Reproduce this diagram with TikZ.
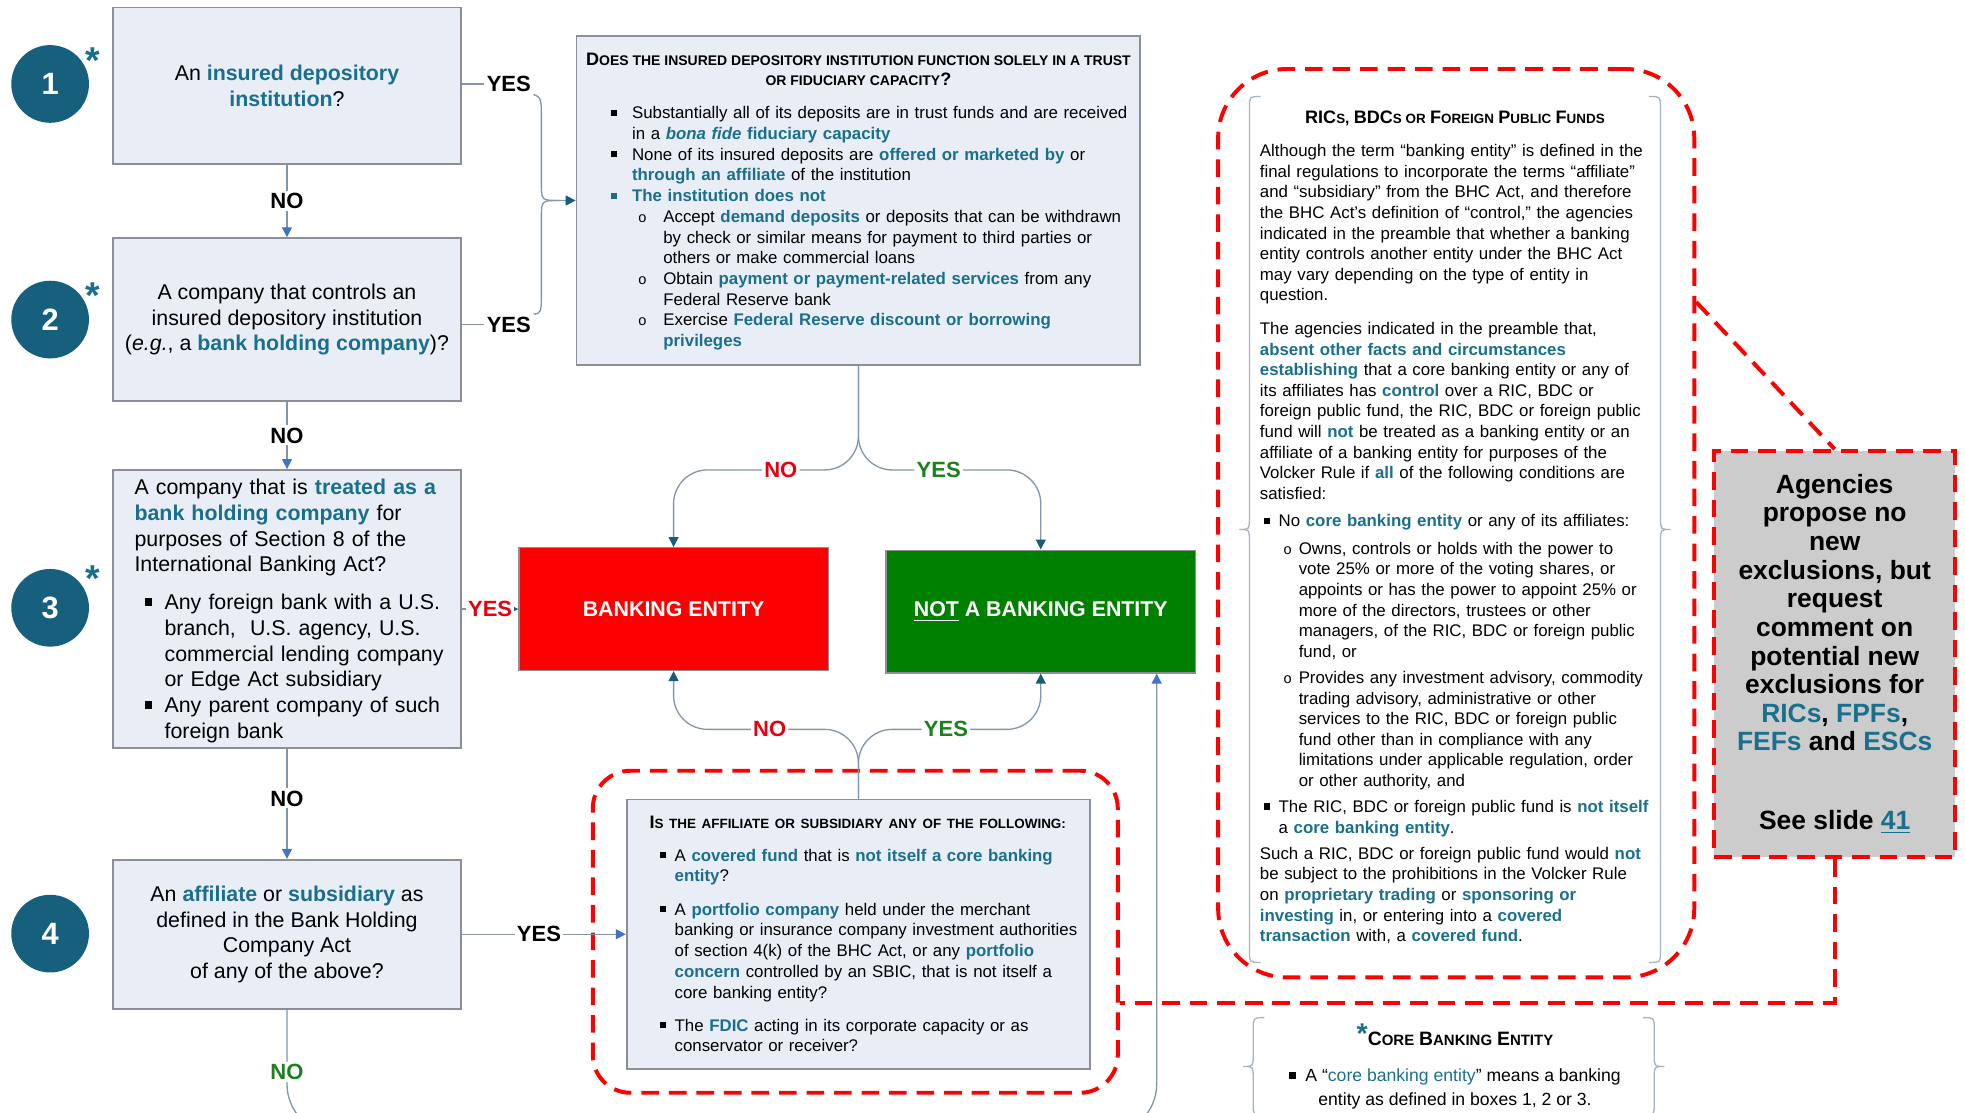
\documentclass[tikz,border=0pt]{standalone}
\usepackage{fontspec}
\setmainfont{Liberation Sans}
\usetikzlibrary{arrows.meta,positioning}

\definecolor{hl}{RGB}{26,112,140}
\definecolor{circ}{RGB}{22,96,126}
\definecolor{boxfill}{RGB}{233,237,245}
\definecolor{boxline}{RGB}{140,142,152}
\definecolor{linkc}{RGB}{130,150,168}
\definecolor{arblue}{RGB}{68,114,196}
\definecolor{arteal}{RGB}{24,92,120}
\definecolor{beRed}{RGB}{255,0,0}
\definecolor{beGreen}{RGB}{0,128,0}
\definecolor{noRed}{RGB}{232,0,16}
\definecolor{yesGreen}{RGB}{28,128,28}
\definecolor{noteGray}{RGB}{204,204,204}
\definecolor{braceC}{RGB}{165,180,192}

\newcommand{\hb}[1]{\textcolor{hl}{\bfseries #1}}
\newcommand{\bigc}[1]{{\fontsize{8.2}{9}\selectfont #1}}
\newcommand{\smc}[2][6.1]{{\fontsize{#1}{9}\selectfont #2}}
\newcommand{\sqb}{\rule[0.18em]{0.36em}{0.36em}}
\newcommand{\bitem}[4][black]{\par{\let\\\newline\hangindent=#3\hangafter=1\noindent\makebox[#3][l]{\hspace{#2}\textcolor{#1}{\sqb}}#4\par}}
\newcommand{\citem}[3]{\par{\let\\\newline\hangindent=#2\hangafter=1\noindent\makebox[#2][l]{\hspace{#1}{\fontsize{6.6}{6}\selectfont o}}#3\par}}
\newcommand{\dbrace}[4]{%
  \draw[bracel] (#1+9,#2) .. controls (#1,#2) .. (#1,#2+9) -- (#1,{(#2+#4)/2-9}) .. controls (#1,{(#2+#4)/2}) .. (#1-8,{(#2+#4)/2}) .. controls (#1,{(#2+#4)/2}) .. (#1,{(#2+#4)/2+9}) -- (#1,#4-9) .. controls (#1,#4) .. (#1+9,#4);
  \draw[bracel] (#3-9,#2) .. controls (#3,#2) .. (#3,#2+9) -- (#3,{(#2+#4)/2-9}) .. controls (#3,{(#2+#4)/2}) .. (#3+8,{(#2+#4)/2}) .. controls (#3,{(#2+#4)/2}) .. (#3,{(#2+#4)/2+9}) -- (#3,#4-9) .. controls (#3,#4) .. (#3-9,#4);}

\tikzset{
  qbox/.style={draw=boxline, fill=boxfill, line width=0.8pt, minimum width=5.56cm, inner sep=0pt, align=center, font=\fontsize{9.7}{11.6}\selectfont},
  numc/.style={circle, fill=circ, minimum size=1.24cm, inner sep=0pt, text=white, font=\fontsize{14}{14}\selectfont\bfseries},
  ast/.style={text=hl, inner sep=0pt, font=\fontsize{17}{17}\selectfont\bfseries},
  link/.style={draw=linkc, line width=0.6pt},
  tipb/.style={-{Triangle[length=4.5pt,width=4.5pt,color=arblue]}},
  tipt/.style={-{Triangle[length=4.5pt,width=4.5pt,color=arteal]}},
  lbl/.style={fill=white, inner sep=1pt, font=\fontsize{10}{10}\selectfont\bfseries},
  result/.style={draw=boxline, line width=0.6pt, minimum width=4.94cm, minimum height=1.96cm, text=white, font=\fontsize{9.7}{11}\selectfont\bfseries},
  reddash/.style={draw=beRed, line width=1.8pt, dash pattern=on 8pt off 4.5pt},
  bracel/.style={draw=braceC, line width=0.6pt},
  txt/.style={inner sep=0pt, align=left}
}

\begin{document}
\begin{tikzpicture}[x=0.02cm, y=-0.02cm]
  % 画布
  \useasboundingbox (0,0) rectangle (1568,888);
  \clip (0,0) rectangle (1568,888);

  % 红色虚线框
  \node[reddash, rounded corners=0.6cm, minimum width=8.38cm, minimum height=5.14cm] (affframe) at (682.5,743.5) {};
  \node[reddash, rounded corners=1.1cm, minimum width=7.6cm, minimum height=14.5cm] (ricframe) at (1162,417.5) {};
  \node[reddash, fill=noteGray, minimum width=3.84cm, minimum height=6.48cm, align=center, font=\fontsize{12}{13}\selectfont\bfseries] (note) at (1464,522)
    {Agencies\\propose no\\new\\exclusions, but\\request\\comment on\\potential new\\exclusions for\\\textcolor{hl}{RICs}, \textcolor{hl}{FPFs},\\\textcolor{hl}{FEFs} and \textcolor{hl}{ESCs}\\[0.8cm]See slide \textcolor{hl}{\underline{41}}};
  \draw[reddash] ([yshift=3.53cm]ricframe.east) -- (note.north);
  \draw[reddash] (note.south) |- ([yshift=-1.13cm]affframe.east);

  % 编号圆
  \foreach \n/\y in {1/67, 2/255, 3/485, 4/745}
    \node[numc] (c\n) at (40,\y) {\n};
  \foreach \n/\y in {1/48, 2/236, 3/462}
    \node[ast] (s\n) at (74,\y) {*};

  % 左侧问题框
  \node[qbox, minimum height=2.5cm] (box1) at (229,68.5) {An \hb{insured depository}\\\hb{institution}?};
  \node[qbox, minimum height=2.6cm] (box2) at (229,255) {A company that controls an\\insured depository institution\\(\textit{e.g.}, a \hb{bank holding company})?};
  \node[qbox, minimum height=4.44cm] (box3) at (229,486) {};
  \node[txt, font=\fontsize{9.7}{11.7}\selectfont, text width=5.4cm, anchor=north west] (box3text) at (107,382)
    {A company that is \hb{treated as a}\\\hb{bank holding company} for\\purposes of Section 8 of the\\International Banking Act?\par\vspace{0.19cm}
     \bitem{0.16cm}{0.48cm}{Any foreign bank with a U.S.\\branch,\ \ U.S. agency, U.S.\\commercial lending company\\or Edge Act subsidiary}
     \bitem{0.16cm}{0.48cm}{Any parent company of such\\foreign bank}};
  \node[qbox, minimum height=2.38cm] (box4) at (229,745.5) {An \hb{affiliate} or \hb{subsidiary} as\\defined in the Bank Holding\\Company Act\\of any of the above?};

  % 信托问题框
  \node[qbox, minimum width=9cm, minimum height=5.24cm] (trust) at (685,160) {};
  \node[txt, align=center, anchor=north, font=\fontsize{8.2}{9.2}\selectfont\bfseries] (trusttitle) at (685,42)
    {\bigc{D}\smc[6.35]{OES THE INSURED DEPOSITORY INSTITUTION FUNCTION SOLELY IN A TRUST}\\\smc[6.35]{OR FIDUCIARY CAPACITY}?};
  \node[txt, font=\fontsize{7.65}{9.4}\selectfont, text width=9.4cm, anchor=north west] (trusttext) at (470,78)
    {\bitem{0.34cm}{0.68cm}{Substantially all of its deposits are in trust funds and are received\\in a \textcolor{hl}{\bfseries\itshape bona fide} \hb{fiduciary capacity}}
     \bitem{0.34cm}{0.68cm}{None of its insured deposits are \hb{offered or marketed by} or\\\hb{through an affiliate} of the institution}
     \bitem[hl]{0.34cm}{0.68cm}{\hb{The institution does not}}
     \citem{0.78cm}{1.18cm}{Accept \hb{demand deposits} or deposits that can be withdrawn\\by check or similar means for payment to third parties or\\others or make commercial loans}
     \citem{0.78cm}{1.18cm}{Obtain \hb{payment or payment-related services} from any\\Federal Reserve bank}
     \citem{0.78cm}{1.18cm}{Exercise \hb{Federal Reserve discount or borrowing}\\\hb{privileges}}};

  % 关联公司问题框
  \node[qbox, minimum width=7.4cm, minimum height=4.3cm] (affil) at (685,745.5) {};
  \node[txt, font=\fontsize{7.65}{9.4}\selectfont, text width=7.2cm, anchor=north west] (affiltext) at (518,651)
    {{\bfseries\bigc{I}\smc{S THE AFFILIATE OR SUBSIDIARY ANY OF THE FOLLOWING:}}\par\vspace{0.19cm}
     \bitem{0.16cm}{0.4cm}{A \hb{covered fund} that is \hb{not itself a core banking}\\\hb{entity}?}\vspace{0.2cm}
     \bitem{0.16cm}{0.4cm}{A \hb{portfolio company} held under the merchant\\banking or insurance company investment authorities\\of section 4(k) of the BHC Act, or any \hb{portfolio}\\\hb{concern} controlled by an SBIC, that is not itself a\\core banking entity?}\vspace{0.2cm}
     \bitem{0.16cm}{0.4cm}{The \hb{FDIC} acting in its corporate capacity or as\\conservator or receiver?}};

  % 结果框
  \node[result, fill=beRed] (bank) at (537.5,486) {BANKING ENTITY};
  \node[result, fill=beGreen] (notbank) at (830.5,488) {\underline{NOT} A BANKING ENTITY};

  % 连线
  \draw[link,tipb] (box1) -- node[lbl]{NO} (box2);
  \draw[link,tipb] (box2) -- node[lbl]{NO} (box3);
  \draw[link,tipb] (box3) -- node[lbl,pos=0.45]{NO} (box4);
  \node[lbl] (yes1) at (406,67) {YES};
  \node[lbl] (yes2) at (406,259) {YES};
  \draw[link] (box1.east |- yes1) -- (yes1.west);
  \draw[link] (box2.east |- yes2) -- (yes2.west);
  \draw[link,tipt] (yes1.south east) .. controls (432,78) .. (432,98) -- (432,146) .. controls (432,160) .. (446,160) -- (trust.west);
  \draw[link] (yes2.north east) .. controls (432,250) .. (432,230) -- (432,174) .. controls (432,160) .. (446,160);
  \draw[link,tipt] (box3.east) -- node[lbl,text=noRed]{YES} (bank.west);
  \draw[link,tipt,rounded corners=0.54cm] (trust.south) -- (685,375) -| node[lbl,text=noRed,pos=0.21]{NO} (bank.north);
  \draw[link,tipt,rounded corners=0.54cm] (trust.south) -- (685,375) -| node[lbl,text=yesGreen,pos=0.22]{YES} (notbank.north);
  \draw[link,tipt,rounded corners=0.54cm] (affil.north) -- (685,582) -| node[lbl,text=noRed,pos=0.24]{NO} (bank.south);
  \draw[link,tipt,rounded corners=0.54cm] (affil.north) -- (685,582) -| node[lbl,text=yesGreen,pos=0.24]{YES} (notbank.south);
  \draw[link,tipb] (box4) -- node[lbl,pos=0.47]{YES} (affil);
  \draw[link,tipb,rounded corners=0.8cm] (box4.south) -- node[lbl,text=yesGreen,pos=0.5]{NO} (229,905) -| ([xshift=1.85cm]notbank.south);

  % 右侧说明
  \dbrace{997}{77}{1325}{768}
  \node[txt, anchor=north, font=\fontsize{7}{9}\selectfont\bfseries] (rictitle) at (1161,88)
    {\bigc{RIC}\smc{S}, \bigc{BDC}\smc{S OR} \bigc{F}\smc{OREIGN} \bigc{P}\smc{UBLIC} \bigc{F}\smc{UNDS}};
  \node[txt, font=\fontsize{7.65}{9.35}\selectfont, text width=7cm, anchor=north west] (rictext) at (1005,115)
    {Although the term “banking entity” is defined in the\\final regulations to incorporate the terms “affiliate”\\and “subsidiary” from the BHC Act, and therefore\\the BHC Act’s definition of “control,” the agencies\\indicated in the preamble that whether a banking\\entity controls another entity under the BHC Act\\may vary depending on the type of entity in\\question.\par\vspace{0.21cm}
     The agencies indicated in the preamble that,\\\hb{absent other facts and circumstances}\\\hb{establishing} that a core banking entity or any of\\its affiliates has \hb{control} over a RIC, BDC or\\foreign public fund, the RIC, BDC or foreign public\\fund will \hb{not} be treated as a banking entity or an\\affiliate of a banking entity for purposes of the\\Volcker Rule if \hb{all} of the following conditions are\\satisfied:\par\vspace{0.11cm}
     \bitem{0.06cm}{0.3cm}{No \hb{core banking entity} or any of its affiliates:}\vspace{0.11cm}
     \citem{0.38cm}{0.62cm}{Owns, controls or holds with the power to\\vote 25\% or more of the voting shares, or\\appoints or has the power to appoint 25\% or\\more of the directors, trustees or other\\managers, of the RIC, BDC or foreign public\\fund, or}\vspace{0.09cm}
     \citem{0.38cm}{0.62cm}{Provides any investment advisory, commodity\\trading advisory, administrative or other\\services to the RIC, BDC or foreign public\\fund other than in compliance with any\\limitations under applicable regulation, order\\or other authority, and}\vspace{0.09cm}
     \bitem{0.06cm}{0.3cm}{The RIC, BDC or foreign public fund is \hb{not itself}\\a \hb{core banking entity}.}\vspace{0.09cm}
     Such a RIC, BDC or foreign public fund would \hb{not}\\be subject to the prohibitions in the Volcker Rule\\on \hb{proprietary trading} or \hb{sponsoring or}\\\hb{investing} in, or entering into a \hb{covered}\\\hb{transaction} with, a \hb{covered fund}.};

  \dbrace{1000}{812}{1320}{890}
  \node[txt, align=center, font=\fontsize{8}{10.8}\selectfont] (core) at (1161,851)
    {{\bfseries\textcolor{hl}{\raisebox{1pt}{\fontsize{13}{13}\selectfont*}}{\fontsize{8.8}{9}\selectfont C}\smc[6.8]{ORE} {\fontsize{8.8}{9}\selectfont B}\smc[6.8]{ANKING} {\fontsize{8.8}{9}\selectfont E}\smc[6.8]{NTITY}}\\[0.2cm]\sqb\ \ A “\textcolor{hl}{core banking entity}” means a banking\\entity as defined in boxes 1, 2 or 3.};
\end{tikzpicture}
\end{document}
